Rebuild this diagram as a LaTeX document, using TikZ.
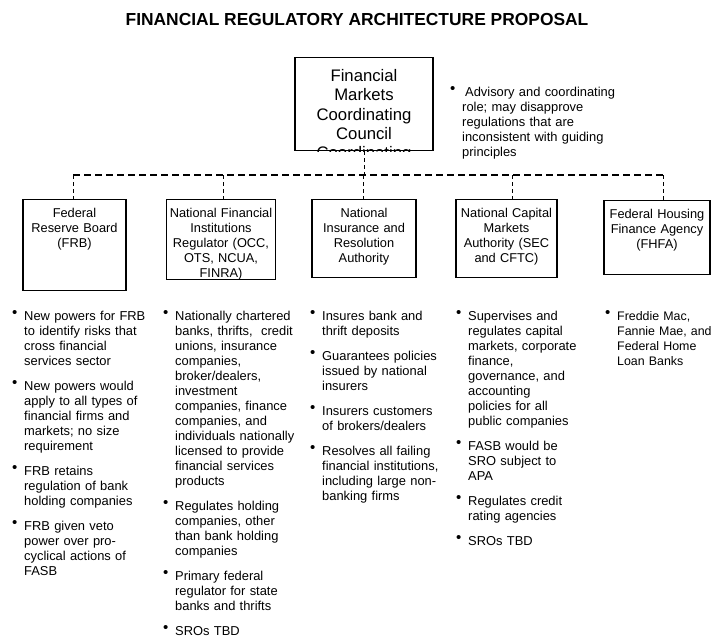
\documentclass[tikz,border=0pt]{standalone}
\usepackage{fontspec}
\setmainfont{Liberation Sans}
\newcommand{\nl}{\hfil\break}
\newcommand{\bul}{\hangindent=12pt\hangafter=1\makebox[12pt][l]{\raisebox{2.5pt}{\fontsize{15}{15}\selectfont\textbullet}}}
\newcommand{\nxt}{\par\vspace{10pt}\bul}
\newcommand{\closenotes}{\par}

\begin{document}
\begin{tikzpicture}[x=1pt,y=-1pt,
    unit/.style={draw, line width=1.2pt, anchor=north, align=center, inner xsep=0pt, inner ysep=5pt, text height=12.5pt, font=\fontsize{12.8}{15}\selectfont},
    notes/.style={anchor=base west, inner sep=0pt, text width=200pt, font=\fontsize{12.9}{15}\selectfont},
    bus/.style={dash pattern=on 7pt off 4pt, line width=1.2pt},
    drop/.style={dash pattern=on 4pt off 3pt, line width=1pt}]
            \useasboundingbox (0,0) rectangle (717,637);
            \node[font=\fontsize{17.4}{20}\selectfont\bfseries] (title) at (357,20) {FINANCIAL REGULATORY ARCHITECTURE PROPOSAL};
            \node[draw, line width=1.2pt, anchor=north, align=center, text width=138pt, inner xsep=0pt, inner ysep=9pt, text height=15pt, text depth=60pt, font=\fontsize{16.7}{19.3}\selectfont] (council) at (364,57) {Financial\\Markets\\Coordinating\\Council};
            \begin{scope}
                \clip (council.south west) rectangle (council.north east);
                \node[anchor=base, inner sep=0pt, font=\fontsize{16.7}{19.3}\selectfont] (ghost) at (364,158) {Coordinating};
            \end{scope}
            \node[notes] (councilnotes) at (450,96) {\bul\hspace{3pt}Advisory and coordinating\nl role; may disapprove\nl regulations that are\nl inconsistent with guiding\nl principles\closenotes};
            \node[unit, text width=103pt, text depth=68.5pt] (frb) at (74.5,199) {Federal\\Reserve Board\\(FRB)};
            \node[unit, text width=109pt, text depth=57pt] (nfir) at (221,199) {National Financial\\Institutions\\Regulator (OCC,\\OTS, NCUA,\\FINRA)};
            \node[unit, text width=104pt, text depth=55.5pt] (nira) at (364,199) {National\\Insurance and\\Resolution\\Authority};
            \node[unit, text width=101pt, text depth=55.5pt] (ncma) at (506.5,199) {National Capital\\Markets\\Authority (SEC\\and CFTC)};
            \node[unit, text width=106pt, text depth=51.5pt] (fhfa) at (657,200) {Federal Housing\\Finance Agency\\(FHFA)};
            \coordinate (bus) at (364,175);
            \draw[drop] (council.south) -- (council.south |- bus);
            \draw[bus] ([xshift=-1.5pt]frb.north |- bus) -- ([xshift=6pt]fhfa.north |- bus);
            \foreach \u/\dx in {frb/-1.5, nfir/2, nira/-1, ncma/5.5, fhfa/6}
                \draw[drop] ([xshift=\dx pt]\u.north |- bus) -- ([xshift=\dx pt]\u.north);
            \node[notes] (frbnotes) at (12,320) {\bul New powers for FRB\nl to identify risks that\nl cross financial\nl services sector\nxt New powers would\nl apply to all types of\nl financial firms and\nl markets; no size\nl requirement\nxt FRB retains\nl regulation of bank\nl holding companies\nxt FRB given veto\nl power over pro-\nl cyclical actions of\nl FASB\closenotes};
            \node[notes] (nfirnotes) at (163,320) {\bul Nationally chartered\nl banks, thrifts,\ \ credit\nl unions, insurance\nl companies,\nl broker/dealers,\nl investment\nl companies, finance\nl companies, and\nl individuals nationally\nl licensed to provide\nl financial services\nl products\nxt Regulates holding\nl companies, other\nl than bank holding\nl companies\nxt Primary federal\nl regulator for state\nl banks and thrifts\nxt SROs TBD\closenotes};
            \node[notes] (niranotes) at (310,320) {\bul Insures bank and\nl thrift deposits\nxt Guarantees policies\nl issued by national\nl insurers\nxt Insurers customers\nl of brokers/dealers\nxt Resolves all failing\nl financial institutions,\nl including large non-\nl banking firms\closenotes};
            \node[notes] (ncmanotes) at (456,320) {\bul Supervises and\nl regulates capital\nl markets, corporate\nl finance,\nl governance, and\nl accounting\nl policies for all\nl public companies\nxt FASB would be\nl SRO subject to\nl APA\nxt Regulates credit\nl rating agencies\nxt SROs TBD\closenotes};
            \node[notes, font=\fontsize{12.4}{15}\selectfont] (fhfanotes) at (605,320) {\bul Freddie Mac,\nl Fannie Mae, and\nl Federal Home\nl Loan Banks\closenotes};
        \end{tikzpicture}
\end{document}
